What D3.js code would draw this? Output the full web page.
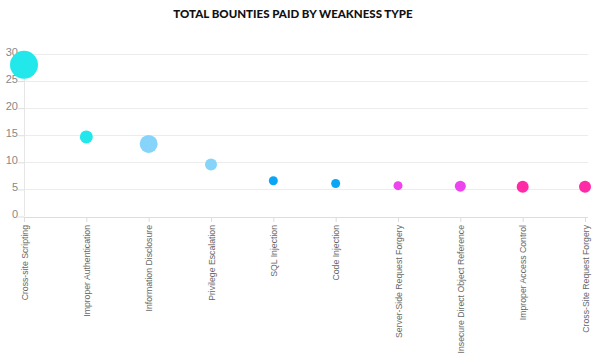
<!DOCTYPE html>
<html>
<head>
<meta charset="utf-8">
<script src="https://cdnjs.cloudflare.com/ajax/libs/d3/7.8.5/d3.min.js"></script>
<style>
  body { margin: 0; background: #fff; }
  svg { display: block; }
  .tick text { font-family: "Liberation Sans", Arial, sans-serif; fill: #666; }
</style>
</head>
<body>
<svg id="chart"></svg>
<script>
var weaknesses = ['Cross-site Scripting', 'Improper Authentication', 'Information Disclosure',
  'Privilege Escalation', 'SQL Injection', 'Code Injection', 'Server-Side Request Forgery',
  'Insecure Direct Object Reference', 'Improper Access Control', 'Cross-Site Request Forgery'];
// total bounties
var bounties = [28, 14.7, 13.4, 9.6, 6.6, 6.1, 5.7, 5.6, 5.5, 5.5];
// bubble size value (read from the circle radii)
var sizes = [14, 6.5, 9, 6, 4.5, 4.5, 4.5, 5.5, 6, 6];
var colors = ['#22e8ec', '#22e8ec', '#87d4fb', '#87d4fb', '#0aa6f5', '#0aa6f5',
  '#ee44ee', '#ee44ee', '#ff2aa5', '#ff2aa5'];
var yTicks = [0, 5, 10, 15, 20, 25, 30];

var width = 600, height = 363;
var margin = {top: 54, right: 15, bottom: 146, left: 24};

var svg = d3.select('#chart')
  .attr('width', width)
  .attr('height', height);

var x = d3.scalePoint()
  .domain(weaknesses)
  .range([margin.left, 585]);

var y = d3.scaleLinear()
  .domain([0, 30])
  .range([height - margin.bottom - 0.5, margin.top]);

var r = d3.scaleLinear()
  .domain([0, 14])
  .range([0, 14]);

// grid
svg.append('g')
  .selectAll('line')
  .data(yTicks)
  .enter()
  .append('line')
  .attr('x1', margin.left)
  .attr('x2', 588)
  .attr('y1', function(d) { return Math.round(y(d)) + 0.5; })
  .attr('y2', function(d) { return Math.round(y(d)) + 0.5; })
  .attr('stroke', function(d) { return d === 0 ? '#ddd' : '#ececec'; });

// vertical axis line
svg.append('line')
  .attr('x1', margin.left + 0.5)
  .attr('x2', margin.left + 0.5)
  .attr('y1', margin.top)
  .attr('y2', y(0))
  .attr('stroke', '#e6e6e6');

var leftAxis = d3.axisLeft(y).tickValues(yTicks).tickSize(6).tickPadding(0);
var gy = svg.append('g')
  .attr('transform', 'translate(' + margin.left + ',0)')
  .call(leftAxis);
gy.select('.domain').remove();
gy.selectAll('.tick line').attr('stroke', '#ddd');
gy.selectAll('.tick text').style('font-size', '11px').style('fill', '#888').attr('dy', '0.1em');

var bottomAxis = d3.axisBottom(x).tickSize(5).tickPadding(4);
var gx = svg.append('g')
  .attr('transform', 'translate(0,' + Math.round(y(0)) + ')')
  .call(bottomAxis);
gx.select('.domain').remove();
gx.selectAll('.tick line').attr('stroke', '#ddd');
gx.selectAll('.tick text')
  .style('font-size', '8.7px')
  .attr('text-anchor', 'end')
  .attr('transform', 'rotate(-90)')
  .attr('x', -8)
  .attr('y', 0)
  .attr('dy', '0.35em');

// bubbles
svg.append('g')
  .selectAll('circle')
  .data(weaknesses)
  .enter()
  .append('circle')
  .attr('cx', function(d) { return x(d); })
  .attr('cy', function(d, i) { return y(bounties[i]); })
  .attr('r', function(d, i) { return r(sizes[i]); })
  .attr('fill', function(d, i) { return colors[i]; });

// title
svg.append('text')
  .attr('x', 293)
  .attr('y', 18)
  .attr('text-anchor', 'middle')
  .style('font-family', 'Lato, "Open Sans", sans-serif')
  .style('font-weight', 900)
  .style('font-size', '11.5px')
  .style('fill', '#111')
  .text('TOTAL BOUNTIES PAID BY WEAKNESS TYPE');
</script>
</body>
</html>
